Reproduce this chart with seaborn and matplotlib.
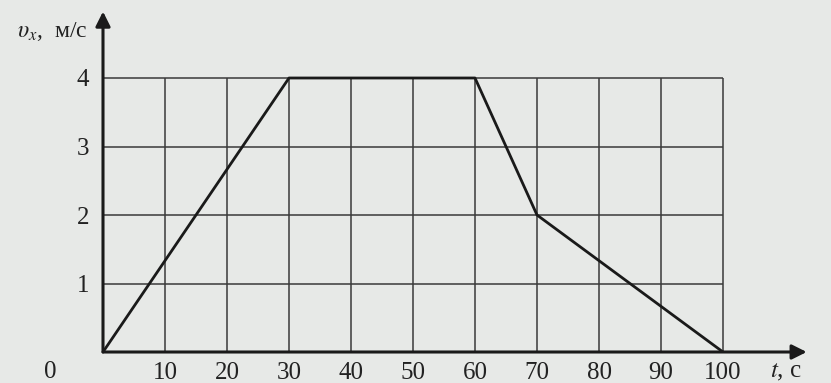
import matplotlib.pyplot as plt
import seaborn as sns
import pandas as pd

t_vals = [0, 30, 60, 70, 100]
v_vals = [0, 4, 4, 2, 0]
x_ticks = [10, 20, 30, 40, 50, 60, 70, 80, 90, 100]
y_ticks = [1, 2, 3, 4]

sns.set_theme(style="white")
plt.rcParams["font.family"] = ["Liberation Serif", "DejaVu Serif"]
plt.rcParams["mathtext.fontset"] = "stix"

bg = "#e7e9e7"
fig = plt.figure(figsize=(8.31, 3.83), dpi=100, facecolor=bg)
# origin at pixel (103, 352), 6.2 px per second, 68.5 px per m/s
ax = fig.add_axes([103 / 831, 31 / 383, 115 * 6.2 / 831, 5.1 * 68.5 / 383])
ax.set_facecolor(bg)
ax.set_xlim(0, 115)
ax.set_ylim(0, 5.1)
for s in ax.spines.values():
    s.set_visible(False)

# grid
ax.vlines(x_ticks, 0, 4, color="#3a3a3a", lw=1.1)
ax.hlines(y_ticks, 0, 100, color="#3a3a3a", lw=1.1)

df = pd.DataFrame({"t": t_vals, "v": v_vals})
sns.lineplot(data=df, x="t", y="v", ax=ax, color="#1a1a1a", lw=2, sort=False)

# axes with arrows
ax.annotate("", xy=(113.5, 0), xytext=(0, 0),
            arrowprops=dict(arrowstyle="-|>", color="#1a1a1a", lw=2.2,
                            mutation_scale=22, shrinkA=0, shrinkB=0), clip_on=False)
ax.annotate("", xy=(0, 4.97), xytext=(0, 0),
            arrowprops=dict(arrowstyle="-|>", color="#1a1a1a", lw=2.2,
                            mutation_scale=22, shrinkA=0, shrinkB=0), clip_on=False)

ax.set_xticks(x_ticks)
ax.set_xticklabels([str(v) for v in x_ticks])
ax.set_yticks(y_ticks)
ax.set_yticklabels([str(v) for v in y_ticks])
ax.tick_params(axis="both", length=0, labelsize=18, colors="#222222")
ax.tick_params(axis="x", pad=7)
ax.tick_params(axis="y", pad=10)
ax.set_xlabel("")
ax.set_ylabel("")

ax.text(-8.5, -0.29, "0", fontsize=18, color="#222222", ha="center", va="center")
ax.text(107.5, -0.29, "$t$, с", fontsize=18, color="#222222", ha="left", va="center")
ax.text(-13.8, 4.68, r"$\upsilon_x$,  м/с", fontsize=17, color="#222222",
        ha="left", va="center")

fig.savefig("out.png", dpi=100, facecolor=bg)
